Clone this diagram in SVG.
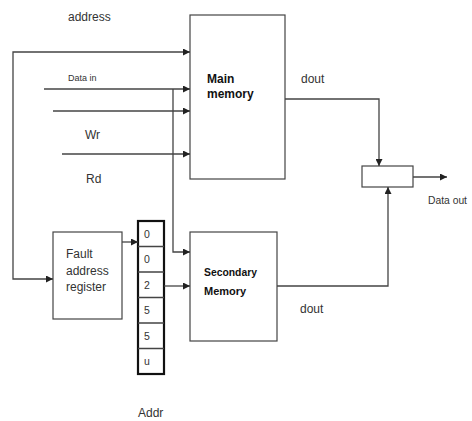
<svg xmlns="http://www.w3.org/2000/svg" width="472" height="421" viewBox="0 0 472 421">
<defs>
<marker id="ah" viewBox="0 0 8 8" refX="8" refY="4" markerWidth="7" markerHeight="7" markerUnits="userSpaceOnUse" orient="auto">
<path d="M0,0 L8,4 L0,8 z" fill="#222"/>
</marker>
</defs>
<style>
.box{fill:#fff;stroke:#444;stroke-width:1.2}
.ln{fill:none;stroke:#444;stroke-width:1.3}
.arr{fill:none;stroke:#444;stroke-width:1.3;marker-end:url(#ah)}
.t{font-family:"Liberation Sans",Arial,sans-serif;font-size:12px;fill:#333}
.b{font-family:"Liberation Sans",Arial,sans-serif;font-size:12px;font-weight:bold;fill:#111}
.c{font-family:"Liberation Sans",Arial,sans-serif;font-size:10.5px;fill:#333}
</style>
<rect width="472" height="421" fill="#fff"/>
<g id="labels">
<text class="t" x="68" y="21">address</text>
<text class="c" x="68" y="81" style="font-size:9px">Data in</text>
<text class="t" x="85" y="139">Wr</text>
<text class="t" x="86" y="183">Rd</text>
<text class="t" x="301" y="83">dout</text>
<text class="t" x="300" y="313">dout</text>
<text class="t" x="428" y="204" style="font-size:11.5px" textLength="39" lengthAdjust="spacingAndGlyphs">Data out</text>
<text class="t" x="138" y="417">Addr</text>
</g>
<g id="main-memory">
<rect class="box" x="190" y="15" width="95" height="164"/>
<text class="b" x="207" y="83">Main</text>
<text class="b" x="207" y="98">memory</text>
</g>
<g id="secondary-memory">
<rect class="box" x="190" y="232" width="87" height="109"/>
<text class="b" x="204" y="276" style="font-size:11px" textLength="53" lengthAdjust="spacingAndGlyphs">Secondary</text>
<text class="b" x="204" y="295" style="font-size:11px">Memory</text>
</g>
<g id="fault-register">
<rect class="box" x="53" y="232" width="69" height="87"/>
<text class="t" x="66" y="258">Fault</text>
<text class="t" x="66" y="275">address</text>
<text class="t" x="66" y="291">register</text>
</g>
<g id="mux">
<rect class="box" x="362" y="166" width="51" height="21"/>
</g>
<g id="addr-column">
<rect x="138" y="221" width="26" height="153" fill="#fff" stroke="#111" stroke-width="2.2"/>
<path class="ln" d="M138,246.5H164M138,272H164M138,297.5H164M138,323H164M138,348.5H164"/>
<text class="c" x="144" y="238">0</text>
<text class="c" x="144" y="263">0</text>
<text class="c" x="144" y="289">2</text>
<text class="c" x="144" y="314">5</text>
<text class="c" x="144" y="340">5</text>
<text class="c" x="144" y="365">u</text>
</g>
<g id="connectors">
<path class="arr" d="M13,160V52H190"/>
<path class="arr" d="M13,160V279H53"/>
<path class="arr" d="M44,89H190"/>
<path class="arr" d="M173,89V252H190"/>
<path class="arr" d="M53,111H190"/>
<path class="arr" d="M62,154H190"/>
<path class="arr" d="M285,99H379V166"/>
<path class="arr" d="M413,177H447"/>
<path class="arr" d="M277,286H388V187"/>
<path class="arr" d="M122,242H138"/>
<path class="arr" d="M164,286H190"/>
</g>
</svg>
